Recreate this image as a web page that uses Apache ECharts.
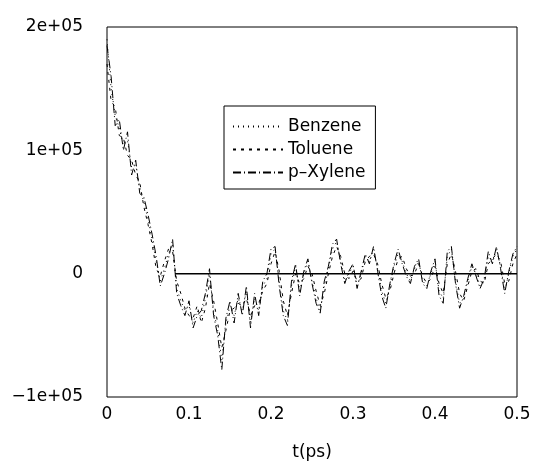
<!DOCTYPE html>
<html>
<head>
<meta charset="utf-8">
<script src="https://cdn.jsdelivr.net/npm/echarts@6/dist/echarts.min.js"></script>
<style>
  html, body { margin: 0; padding: 0; background: #fff; }
  #main { width: 538px; height: 466px; }
</style>
</head>
<body>
<div id="main"></div>
<script>
// sampling step in ps, values below are in units of 1e3
const dt = 0.005;
const benzene = [190,150,128,118,104,108,86,88,70,58,
  44,28,10,-6,4,16,24,-12,-22,-30,
  -26,-40,-30,-36,-20,0,-30,-46,-70,-40,
  -26,-34,-20,-30,-14,-40,-20,-30,-10,-4,
  16,20,-6,-30,-38,-10,6,-14,0,10,
  -6,-20,-30,-10,4,20,26,10,-6,0,
  6,-10,0,14,10,20,4,-14,-24,-10,
  6,16,10,0,-6,4,10,-6,-10,0,
  10,-14,-20,14,20,-6,-24,-20,-6,6,
  0,-10,-6,14,10,20,6,-14,0,14,
  20];
const toluene = [170,140,135,112,110,96,92,80,74,54,
  40,24,4,-2,10,20,18,-6,-16,-28,
  -34,-36,-26,-40,-28,-8,-22,-40,-60,-46,
  -30,-28,-24,-26,-20,-34,-26,-24,-14,-8,
  8,18,2,-22,-34,-16,0,-8,-4,6,
  0,-14,-26,-16,0,14,22,14,0,-4,
  2,-6,-4,10,14,16,8,-8,-20,-14,
  0,12,14,4,-2,0,8,-2,-8,-4,
  6,-8,-16,8,16,2,-16,-22,-10,2,
  4,-6,-8,8,12,16,10,-8,-6,8,
  16];
const xylene = [185,160,120,125,100,115,80,92,65,62,
  48,32,14,-10,0,12,28,-16,-26,-34,
  -22,-44,-34,-30,-16,4,-34,-50,-78,-36,
  -22,-40,-16,-34,-10,-44,-16,-34,-6,0,
  20,22,-10,-34,-42,-6,8,-18,2,12,
  -8,-24,-32,-6,6,24,28,8,-8,2,
  8,-12,2,16,8,22,2,-18,-28,-8,
  8,20,8,-2,-8,6,12,-8,-12,2,
  12,-18,-24,18,22,-8,-28,-18,-4,8,
  -2,-12,-4,18,8,22,4,-16,2,16,
  22];
const zeroT = [0.083, 0.5];
const zeroV = [0, 0];
const yTicks = [-100, 0, 100, 200];
const yTickLabels = ['\u22121e+05', '0', '1e+05', '2e+05'];
const xTickLabels = ['0', '0.1', '0.2', '0.3', '0.4', '0.5'];

function pairs(vals) {
  return vals.map((v, i) => [+(i * dt).toFixed(3), v]);
}

const font = 'DejaVu Sans, sans-serif';
const chart = echarts.init(document.getElementById('main'));
chart.setOption({
  animation: false,
  backgroundColor: '#fff',
  grid: {
    left: 107, right: 21, top: 27, bottom: 62,
    show: true, borderColor: '#000', borderWidth: 1
  },
  legend: {
    left: 224, top: 106,
    orient: 'vertical',
    itemWidth: 50, itemHeight: 14, itemGap: 6,
    padding: [12, 10, 8, 8],
    borderColor: '#000', borderWidth: 1,
    itemStyle: { opacity: 0 },
    textStyle: { fontFamily: font, fontSize: 17, color: '#000', lineHeight: 17 },
    data: ['Benzene', 'Toluene', 'p\u2013Xylene']
  },
  xAxis: {
    type: 'value', min: 0, max: 0.5, interval: 0.1,
    name: 't(ps)', nameLocation: 'middle', nameGap: 47,
    nameTextStyle: { fontFamily: font, fontSize: 17, color: '#000' },
    axisLine: { show: false }, axisTick: { show: false }, splitLine: { show: false },
    axisLabel: {
      fontFamily: font, fontSize: 17, color: '#000', margin: 9,
      formatter: (v) => xTickLabels[Math.round(v * 10)]
    }
  },
  yAxis: {
    type: 'value', min: -100, max: 200, interval: 100,
    axisLine: { show: false }, axisTick: { show: false }, splitLine: { show: false },
    axisLabel: {
      fontFamily: font, fontSize: 17, color: '#000', margin: 24,
      formatter: (v) => yTickLabels[yTicks.indexOf(v)]
    }
  },
  series: [
    {
      name: 'Benzene', type: 'line', symbol: 'none',
      lineStyle: { color: '#000', width: 1, type: [1, 4] },
      itemStyle: { color: '#000' },
      data: pairs(benzene)
    },
    {
      name: 'Toluene', type: 'line', symbol: 'none',
      lineStyle: { color: '#000', width: 1, type: [3, 5] },
      itemStyle: { color: '#000' },
      data: pairs(toluene)
    },
    {
      name: 'p\u2013Xylene', type: 'line', symbol: 'none',
      lineStyle: { color: '#000', width: 1, type: [8, 3, 1, 3] },
      itemStyle: { color: '#000' },
      data: pairs(xylene)
    },
    {
      name: 'zero', type: 'line', symbol: 'none', silent: true,
      lineStyle: { color: '#000', width: 1.5 },
      data: zeroT.map((t, i) => [t, zeroV[i]])
    }
  ]
});
</script>
</body>
</html>
